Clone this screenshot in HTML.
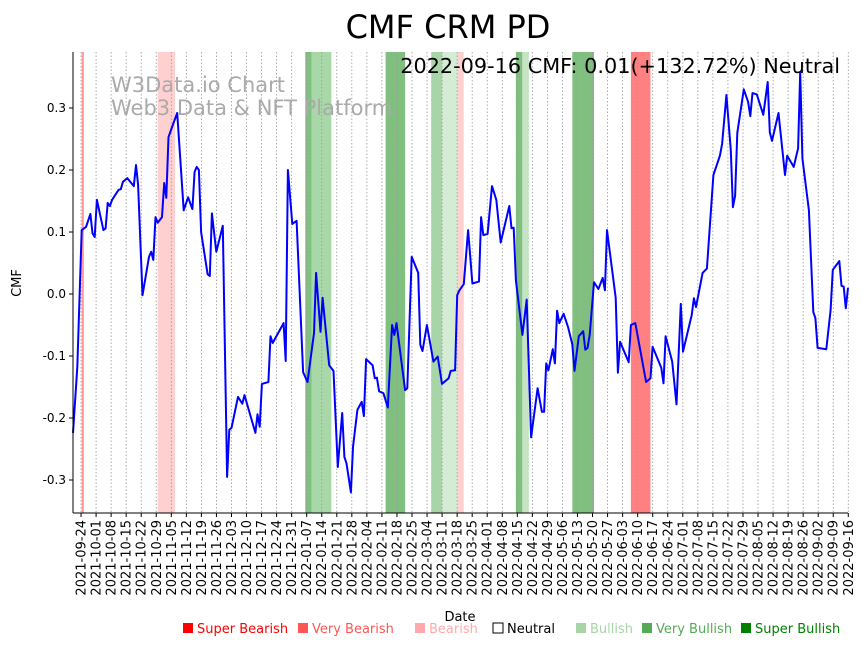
<!DOCTYPE html>
<html><head><meta charset="utf-8"><style>
body{margin:0;background:#fff;font-family:"DejaVu Sans","Liberation Sans",sans-serif}
svg text{font-family:"DejaVu Sans","Liberation Sans",sans-serif}
</style></head><body>
<svg id="chart" width="864" height="646" xmlns="http://www.w3.org/2000/svg">
<text x="448" y="38" font-size="32" text-anchor="middle">CMF CRM PD</text>
<g id="bands"></g><g id="grid"></g>
<text x="111" y="92" font-size="21" fill="#aaa">W3Data.io Chart</text>
<text x="111" y="115" font-size="21" fill="#aaa">Web3 Data &amp; NFT Platform</text>
<g id="series"></g><g id="axes"></g>
<text x="840" y="73" font-size="20.8" text-anchor="end">2022-09-16 CMF: 0.01(+132.72%) Neutral</text>
<text x="460" y="621" font-size="13" text-anchor="middle">Date</text>
<text transform="translate(21,283) rotate(-90)" font-size="13" text-anchor="middle">CMF</text>
<g id="legend"></g>
</svg>
<script>
const days=[0,2,4,6,8,9,10,11,14,15,16,17,18,21,22,23,25,28,29,30,32,35,36,37,38,39,41,42,43,44,46,48,51,53,55,56,57,58,59,62,63,64,66,69,71,72,73,76,78,79,84,85,86,87,90,91,92,97,98,99,101,103,106,108,111,112,114,115,118,120,122,124,125,126,128,129,131,133,134,135,138,139,140,141,143,145,147,148,149,153,154,156,159,160,161,163,166,168,170,173,174,176,177,178,180,182,184,187,188,189,191,193,195,197,201,202,203,204,207,209,211,214,216,217,218,219,221,222,223,224,226,228,230,231,233,235,236,237,238,240,242,244,245,246,250,251,252,256,257,259,264,266,267,271,272,273,276,278,280,281,285,286,287,290,292,295,298,299,301,303,304,305,306,309,311,312,313,315,318,320,321,322,325,328,329,332,334,335,336,339,341,342,343,347,349,350,353,354,355,356,357];
const cmf=[-0.224,-0.118,0.103,0.108,0.129,0.098,0.092,0.152,0.103,0.106,0.147,0.142,0.152,0.168,0.169,0.181,0.187,0.174,0.208,0.176,-0.002,0.06,0.068,0.055,0.124,0.115,0.124,0.179,0.155,0.253,0.273,0.292,0.135,0.156,0.137,0.197,0.205,0.2,0.1,0.032,0.029,0.13,0.068,0.11,-0.295,-0.219,-0.216,-0.166,-0.177,-0.163,-0.224,-0.194,-0.214,-0.145,-0.142,-0.068,-0.079,-0.047,-0.108,0.2,0.113,0.118,-0.126,-0.142,-0.063,0.034,-0.061,-0.006,-0.115,-0.124,-0.279,-0.192,-0.263,-0.273,-0.32,-0.247,-0.187,-0.174,-0.197,-0.105,-0.115,-0.136,-0.135,-0.157,-0.16,-0.183,-0.05,-0.066,-0.047,-0.155,-0.152,0.06,0.034,-0.082,-0.092,-0.05,-0.109,-0.101,-0.145,-0.136,-0.124,-0.123,-0.002,0.006,0.016,0.103,0.017,0.02,0.124,0.095,0.097,0.174,0.152,0.083,0.142,0.106,0.107,0.022,-0.066,-0.009,-0.231,-0.152,-0.19,-0.19,-0.112,-0.123,-0.089,-0.112,-0.027,-0.047,-0.032,-0.053,-0.081,-0.124,-0.068,-0.06,-0.09,-0.087,-0.066,0.019,0.008,0.026,0.006,0.103,-0.006,-0.127,-0.077,-0.11,-0.05,-0.047,-0.142,-0.136,-0.085,-0.119,-0.144,-0.068,-0.109,-0.178,-0.016,-0.093,-0.034,-0.007,-0.021,0.034,0.041,0.192,0.223,0.242,0.321,0.232,0.14,0.158,0.26,0.33,0.31,0.287,0.324,0.322,0.289,0.342,0.261,0.247,0.292,0.192,0.223,0.205,0.235,0.358,0.219,0.135,-0.029,-0.039,-0.087,-0.089,-0.026,0.039,0.053,0.013,0.012,-0.023,0.01];
const bandStart=[4,39,107,110,144,165,170,177,204,207,230,257];
const bandEnd=[5,47,110,119,153,170,177,180,207,210,240,266];
const bandColor=["#ff9999","#ffd0d0","#80c080","#a8d8a8","#80bf80","#a8d5a8","#d4ebd4","#ffd0d0","#80bf80","#c4e4c4","#80bf80","#ff8080"];
const yTicks=[-0.3,-0.2,-0.1,0.0,0.1,0.2,0.3];
const tickCount=52;
const legendLabels=["Super Bearish","Very Bearish","Bearish","Neutral","Bullish","Very Bullish","Super Bullish"];
const legendColors=["#ff0000","#ff5555","#ffaaaa","#ffffff","#a8d5a8","#55aa55","#008000"];
const legendText=["#ff0000","#ff5555","#ffaaaa","#000000","#a8d5a8","#55aa55","#008000"];
const legendX=[183,298,415,493,576,642,741];

const NS="http://www.w3.org/2000/svg";
const X0=73,X1=848,T=52,B=513;
const xs=d=>X0+(X1-X0)*d/357;
const ys=v=>294-620*v;
const tickDay=k=>3.7+k*6.93;
function mk(t,a,p){const e=document.createElementNS(NS,t);for(const k in a)e.setAttribute(k,a[k]);p.appendChild(e);return e;}
const G=id=>document.getElementById(id);
bandStart.forEach((s,i)=>{
 const r=mk('rect',{x:xs(s),y:T,width:xs(bandEnd[i])-xs(s),height:B-T,fill:bandColor[i]},G('bands'));
 
 
});
const base=new Date(Date.UTC(2021,8,24));
for(let k=0;k<tickCount;k++){
 const x=xs(tickDay(k));
 const l=mk('line',{x1:x,x2:x,y1:T,y2:B,stroke:'#999','stroke-width':0.8,'stroke-dasharray':'1.5,2'},G('grid'));
 
 
 const tk=mk('line',{x1:x,x2:x,y1:B,y2:B+4,stroke:'#000'},G('axes'));
 
 
 const dt=new Date(base.getTime()+k*7*86400000);
 const t=mk('text',{transform:`translate(${x+4.5},${B+7}) rotate(-90)`,'font-size':13,'text-anchor':'end'},G('axes'));
 t.textContent=dt.toISOString().slice(0,10);
 
 
}
const ax=mk('line',{x1:X0,x2:X0,y1:T,y2:B,stroke:'#000','stroke-width':1},G('axes'));


const bx=mk('line',{x1:X0,x2:X1,y1:B,y2:B,stroke:'#000','stroke-width':1},G('axes'));


yTicks.forEach(v=>{
 const y=ys(v);
 const tk=mk('line',{x1:X0-4,x2:X0,y1:y,y2:y,stroke:'#000'},G('axes'));
 
 
 const t=mk('text',{x:X0-7,y:y+4,'font-size':12,'text-anchor':'end'},G('axes'));
 t.textContent=v.toFixed(1);
 
 
});
const pts=days.map((d,i)=>xs(d).toFixed(1)+','+ys(cmf[i]).toFixed(1)).join(' ');
const pl=mk('polyline',{points:pts,fill:'none',stroke:'#0000ff','stroke-width':2,'stroke-linejoin':'round'},G('series'));


legendLabels.forEach((lab,i)=>{
 const g=mk('g',{},G('legend'));
 
 
 mk('rect',{x:legendX[i],y:623,width:10,height:10,fill:legendColors[i],stroke:i==3?'#000':'none','stroke-width':1},g);
 const t=mk('text',{x:legendX[i]+14,y:633,'font-size':13,fill:legendText[i]},g);
 t.textContent=lab;
});
</script>
</body></html>
